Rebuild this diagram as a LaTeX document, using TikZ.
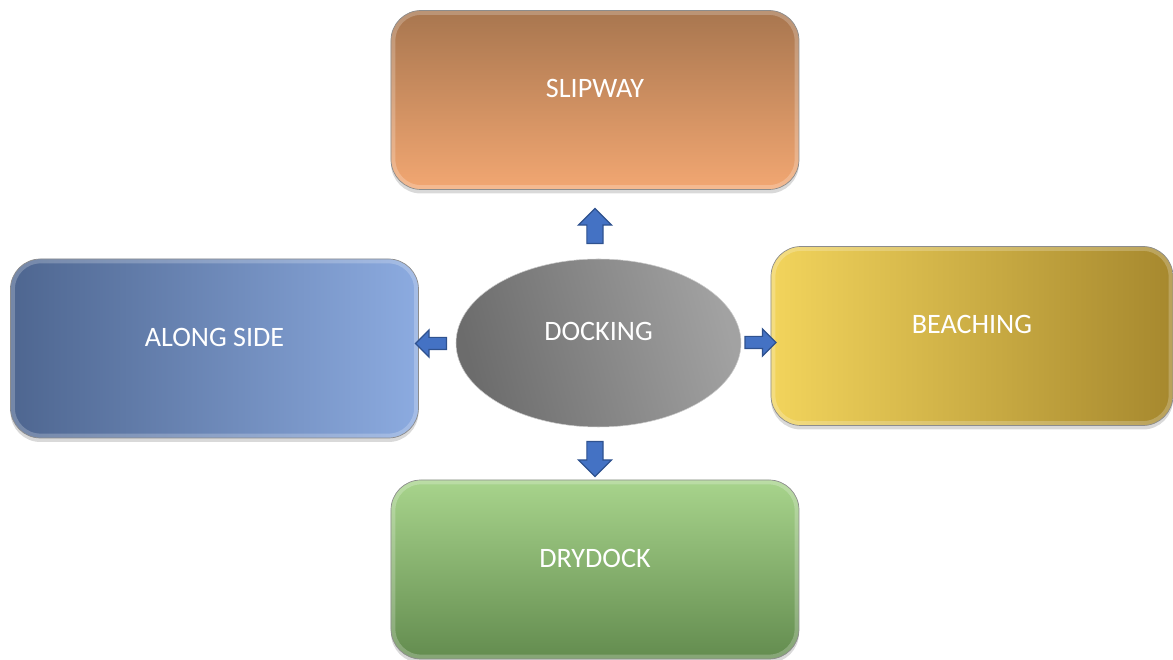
\documentclass[tikz,border=0pt]{standalone}
\usepackage{fontspec}
\setmainfont{Carlito}
\usepackage{tikz}
\usetikzlibrary{shapes.geometric,shapes.arrows,shadows}
\definecolor{slipdark}{HTML}{A8764F}
\definecolor{sliplight}{HTML}{F2A772}
\definecolor{alongdark}{HTML}{4E6690}
\definecolor{alonglight}{HTML}{8CABE0}
\definecolor{beachlight}{HTML}{F2D45C}
\definecolor{beachdark}{HTML}{A6882E}
\definecolor{drylight}{HTML}{A8D48C}
\definecolor{drydark}{HTML}{638C4F}
\definecolor{dockdark}{HTML}{6C6C6C}
\definecolor{docklight}{HTML}{A2A2A2}
\definecolor{arfill}{HTML}{4472C4}
\definecolor{ardraw}{HTML}{2F528F}
\tikzset{
  rim/.style={path picture={
      \draw[white, opacity=.22, line width=5pt, rounded corners=.6cm]
        (path picture bounding box.south west) rectangle (path picture bounding box.north east);}},
  box/.style={rectangle, rounded corners=.6cm, draw=black!45, line width=.4pt,
    minimum width=8.16cm, minimum height=3.58cm, text depth=.46cm,
    font=\fontsize{16}{19}\selectfont, text=white, rim,
    drop shadow={shadow xshift=0cm, shadow yshift=-.08cm, opacity=.3}},
  dock/.style={ellipse, minimum width=5.7cm, minimum height=3.36cm, text depth=.46cm,
    font=\fontsize{16}{19}\selectfont, text=white, draw=black!20, line width=.3pt},
  blkar/.style={single arrow, fill=arfill, draw=ardraw, line width=.7pt, inner xsep=0pt,
    single arrow head indent=0pt},
  varr/.style={blkar, minimum height=.7cm, inner ysep=.15cm, single arrow head extend=.17cm},
  harr/.style={blkar, minimum height=.62cm, inner ysep=.11cm, single arrow head extend=.15cm},
}
\begin{document}
\begin{tikzpicture}
  \useasboundingbox (-11.97,-6.34) rectangle (11.49,6.86);
  % centre
  \node[dock, left color=dockdark, right color=docklight, shading angle=105] (docking) at (0,0) {DOCKING};
  % the four methods
  \node[box, top color=slipdark, bottom color=sliplight] (slip) at (-0.07,4.86) {SLIPWAY};
  \node[box, left color=alongdark, right color=alonglight] (along) at (-7.68,-0.11) {ALONG SIDE};
  \node[box, minimum width=8.04cm, left color=beachlight, right color=beachdark] (beach) at (7.47,0.14) {BEACHING};
  \node[box, top color=drylight, bottom color=drydark] (dry) at (-0.07,-4.53) {DRYDOCK};
  % block arrows
  \node[varr, rotate=90] (toslip) at (-0.07,2.26) {};
  \node[varr, rotate=-90] (todry) at (-0.07,-2.24) {};
  \node[harr, rotate=180] (toalong) at (-3.29,-0.01) {};
  \node[harr] (tobeach) at (3.18,0.01) {};
\end{tikzpicture}
\end{document}
